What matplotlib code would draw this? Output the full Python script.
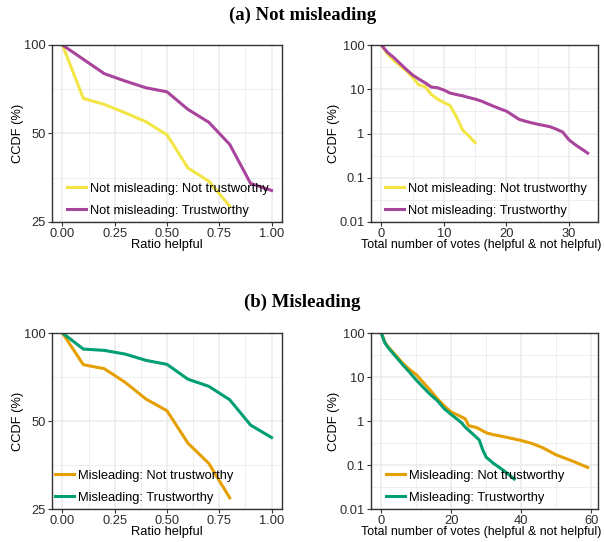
import matplotlib.pyplot as plt
import numpy as np

plt.rcParams['font.family'] = ['Liberation Sans', 'DejaVu Sans']

# colours
c_yellow = '#F3E545'
c_purple = '#A9449C'
c_orange = '#E69F00'
c_green = '#009E73'

# ---- (a) Not misleading ----
ratio_x = [0.0, 0.1, 0.2, 0.3, 0.4, 0.5, 0.6, 0.7, 0.8, 0.9, 1.0]
nm_nt_ratio = [100, 65.8, 62.8, 58.8, 54.8, 49.5, 38.2, 34.4, 28.3]
nm_t_ratio = [100, 89.4, 79.9, 75.4, 71.5, 69.3, 60.4, 54.6, 45.9, 33.8, 32.0]

nm_nt_votes_x = [0, 1, 2, 3, 4, 5, 6, 7, 8, 9, 10, 11, 12, 13, 14, 15]
nm_nt_votes = [100, 62, 45, 34, 26, 18.5, 12.5, 11.5, 7.6, 6.0, 5.0, 4.3, 2.4, 1.2, 0.88, 0.62]
nm_t_votes_x = list(range(0, 34))
nm_t_votes = [100, 68, 52, 38, 28, 21, 17, 14, 11.2, 10.8, 9.6, 8.2, 7.6, 7.1, 6.5, 6.0,
              5.4, 4.7, 4.1, 3.6, 3.2, 2.6, 2.1, 1.9, 1.75, 1.62, 1.52, 1.42, 1.25, 1.08,
              0.72, 0.56, 0.45, 0.36]

# ---- (b) Misleading ----
m_nt_ratio = [100, 77.9, 75.5, 67.8, 59.4, 54.2, 42.0, 35.8, 27.3]
m_t_ratio = [100, 88.1, 87.2, 84.7, 80.6, 78.1, 69.5, 65.7, 59.1, 48.4, 43.9]

m_nt_votes_x = [0, 1, 2, 4, 6, 8, 10, 12, 14, 16, 18, 20, 22, 24, 25, 27, 28, 30, 32, 35,
                40, 43, 46, 50, 55, 59]
m_nt_votes = [100, 62, 48, 32, 21, 15, 11.3, 7.5, 5.0, 3.2, 2.2, 1.6, 1.35, 1.12, 0.78,
              0.72, 0.66, 0.54, 0.49, 0.44, 0.36, 0.31, 0.25, 0.17, 0.12, 0.088]
m_t_votes_x = [0, 1, 2, 4, 6, 8, 10, 12, 14, 16, 18, 20, 22, 23, 24, 26, 28, 29, 30, 32,
               34, 36, 38]
m_t_votes = [100, 60, 46, 30, 19.5, 13, 8.5, 5.8, 4.0, 2.9, 1.9, 1.4, 1.05, 0.9, 0.72,
             0.52, 0.37, 0.22, 0.15, 0.11, 0.085, 0.065, 0.048]

ratio_ticks = [0.0, 0.25, 0.5, 0.75, 1.0]
ratio_labels = ['0.00', '0.25', '0.50', '0.75', '1.00']
ratio_yticks = [25, 50, 100]
votes_yticks = [0.01, 0.1, 1, 10, 100]
votes_ylabels = ['0.01', '0.1', '1', '10', '100']

W, H = 605, 542
fs = 9.3
fig = plt.figure(figsize=(W / 100, H / 100), dpi=100)


def px_axes(x0, y0, x1, y1):
    return fig.add_axes([x0 / W, 1 - y1 / H, (x1 - x0) / W, (y1 - y0) / H])


def style(ax):
    ax.set_facecolor('white')
    for s in ax.spines.values():
        s.set_color('#333333')
        s.set_linewidth(1.0)
    ax.grid(which='major', color='#EBEBEB', linewidth=1.1)
    ax.grid(which='minor', color='#EBEBEB', linewidth=0.6)
    ax.set_axisbelow(True)
    ax.tick_params(which='major', length=3, width=0.8, color='#333333',
                   labelsize=fs, labelcolor='#2B2B2B', pad=1.5)
    ax.tick_params(which='minor', length=0)
    ax.set_ylabel('CCDF (%)', fontsize=fs, labelpad=0)


def ratio_panel(ax):
    style(ax)
    ax.set_yscale('log')
    ax.set_xlim(-0.05, 1.05)
    ax.set_ylim(25, 100)
    ax.set_xticks(ratio_ticks, ratio_labels)
    ax.set_xticks([0.125, 0.375, 0.625, 0.875], minor=True)
    ax.set_yticks(ratio_yticks, [str(v) for v in ratio_yticks])
    ax.set_yticks([np.sqrt(25 * 50), np.sqrt(50 * 100)], minor=True)
    ax.yaxis.set_minor_formatter(plt.NullFormatter())
    ax.set_xlabel('Ratio helpful', fontsize=fs, labelpad=-1)


def votes_panel(ax, xmax, xticks, xminor):
    style(ax)
    ax.set_yscale('log')
    ax.set_xlim(-0.05 * xmax, 1.05 * xmax)
    ax.set_ylim(0.01, 100)
    ax.set_xticks(xticks, [str(v) for v in xticks])
    ax.set_xticks(xminor, minor=True)
    ax.set_yticks(votes_yticks, votes_ylabels)
    ax.set_yticks([10 ** (k + 0.5) for k in range(-2, 2)], minor=True)
    ax.yaxis.set_minor_formatter(plt.NullFormatter())
    ax.set_xlabel('Total number of votes (helpful & not helpful)', fontsize=8.9, labelpad=-1)
    ax.xaxis.label.set_x(0.485)


def legend(ax, x, y):
    ax.legend(loc='lower left', bbox_to_anchor=(x, y), frameon=False, fontsize=fs,
              handlelength=1.5, handletextpad=0.3, labelspacing=0.75,
              borderpad=0, borderaxespad=0)


lw = 2.2

# top-left
ax1 = px_axes(52, 45, 282, 222)
ratio_panel(ax1)
ax1.plot(ratio_x[:len(nm_nt_ratio)], nm_nt_ratio, color=c_yellow, lw=lw,
         label='Not misleading: Not trustworthy')
ax1.plot(ratio_x, nm_t_ratio, color=c_purple, lw=lw, label='Not misleading: Trustworthy')
legend(ax1, 0.065, 0.03)

# top-right
ax2 = px_axes(371, 45, 598, 222)
votes_panel(ax2, 33, [0, 10, 20, 30], [5, 15, 25])
ax2.plot(nm_nt_votes_x, nm_nt_votes, color=c_yellow, lw=lw,
         label='Not misleading: Not trustworthy')
ax2.plot(nm_t_votes_x, nm_t_votes, color=c_purple, lw=lw, label='Not misleading: Trustworthy')
legend(ax2, 0.062, 0.03)

# bottom-left
ax3 = px_axes(52, 333, 282, 509)
ratio_panel(ax3)
ax3.plot(ratio_x[:len(m_nt_ratio)], m_nt_ratio, color=c_orange, lw=lw,
         label='Misleading: Not trustworthy')
ax3.plot(ratio_x, m_t_ratio, color=c_green, lw=lw, label='Misleading: Trustworthy')
legend(ax3, 0.013, 0.03)

# bottom-right
ax4 = px_axes(371, 333, 598, 509)
votes_panel(ax4, 59, [0, 20, 40, 60], [10, 30, 50])
ax4.plot(m_nt_votes_x, m_nt_votes, color=c_orange, lw=lw, label='Misleading: Not trustworthy')
ax4.plot(m_t_votes_x, m_t_votes, color=c_green, lw=lw, label='Misleading: Trustworthy')
legend(ax4, 0.066, 0.03)

fig.text(0.5, 1 - 15 / H, '(a) Not misleading', ha='center', va='center',
         family=['Liberation Serif', 'DejaVu Serif'], fontweight='bold', fontsize=13.5)
fig.text(0.5, 1 - 302 / H, '(b) Misleading', ha='center', va='center',
         family=['Liberation Serif', 'DejaVu Serif'], fontweight='bold', fontsize=13.5)

fig.savefig('out.png', dpi=100)
